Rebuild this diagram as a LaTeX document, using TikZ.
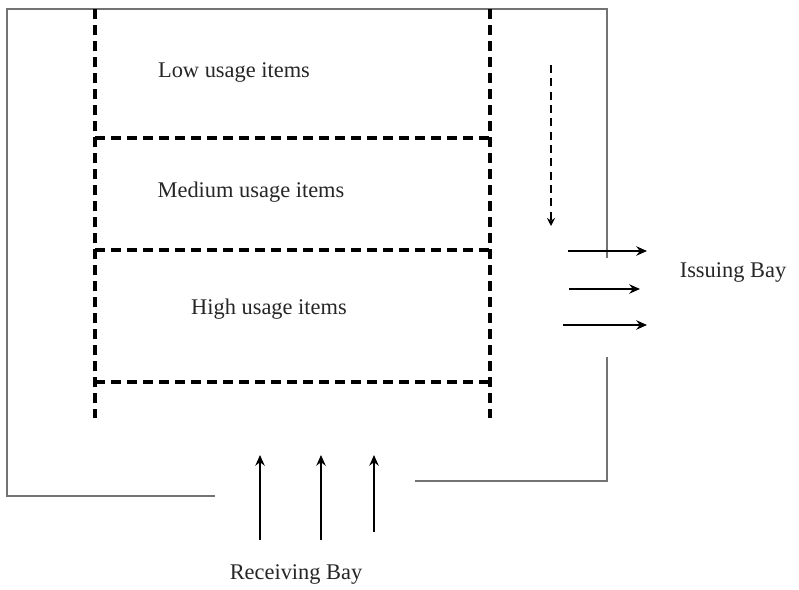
\documentclass[tikz,border=0pt]{standalone}
\usepackage{fontspec}
\setmainfont{Liberation Serif}
\usetikzlibrary{arrows, arrows.meta, positioning}

\begin{document}
\begin{tikzpicture}[x=0.75pt, y=-0.75pt, >={Stealth[length=8pt, width=7pt]},
    wall/.style={draw=black!55, line width=1pt},
    rack/.style={line width=2.6pt, dash pattern=on 7.5pt off 4.5pt},
    flow/.style={->, line width=1.3pt},
    area/.style={font=\fontsize{16.8}{20}\selectfont, text=black!85}]
  \useasboundingbox (0,0) rectangle (799,589);
  % outer walls
  \draw[wall] (215,496) -- (7,496) -- (7,9) -- (607,9) -- (607,258);
  \draw[wall] (607,357) -- (607,481) -- (415,481);
  % racks
  \draw[rack] (95,9) -- (95,418);
  \draw[rack] (490,9) -- (490,418);
  \foreach \y in {138,250,382}
    \draw[rack] (95,\y) -- (490,\y);
  \node[area] (low) at (234,73) {Low usage items};
  \node[area] (medium) at (251,192) {Medium usage items};
  \node[area] (high) at (269,309) {High usage items};
  \node[area] (issue) at (733,272) {Issuing Bay};
  \node[area] (receive) at (296,574) {Receiving Bay};
  % picking flow
  \coordinate (p1) at (551,65);
  \coordinate (p2) at (551,226);
  \draw[-{Stealth[length=6pt, width=6pt]}, line width=1.3pt, dash pattern=on 6pt off 4pt] (p1) -- (p2);
  \foreach \y/\xa/\xb [count=\i] in {251/568/647, 289/569/640, 325/563/647}
    \draw[flow] (\xa,\y) coordinate (o\i) -- (\xb,\y) coordinate (e\i);
  \foreach \x/\yb [count=\i] in {260/540, 321/540, 374/532}
    \draw[flow] (\x,\yb) coordinate (r\i) -- (\x,455) coordinate (s\i);
\end{tikzpicture}
\end{document}
